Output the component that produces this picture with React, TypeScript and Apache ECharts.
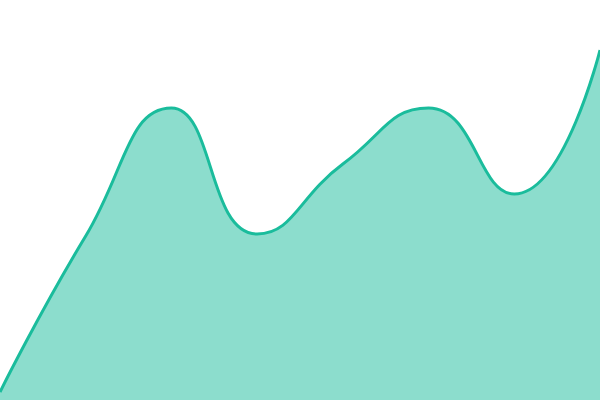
import React, { useEffect, useRef } from 'react'
import * as echarts from 'echarts'

const categories = ['1', '2', '3', '4', '5', '6', '7', '8']
const values = [2, 41, 73, 41.5, 59, 73, 51.5, 87.5]

const App: React.FC = () => {
  const ref = useRef<HTMLDivElement>(null)

  useEffect(() => {
    if (!ref.current) return
    const chart = echarts.init(ref.current, undefined, { renderer: 'svg' })
    chart.setOption({
      animation: false,
      grid: { left: 0, right: 0, top: 0, bottom: 0 },
      xAxis: { type: 'category', data: categories, boundaryGap: false, show: false },
      yAxis: { type: 'value', min: 0, max: 100, show: false },
      series: [{
        type: 'line',
        data: values,
        smooth: true,
        symbol: 'none',
        lineStyle: { color: '#1abc9c', width: 3 },
        areaStyle: { color: '#1abc9c', opacity: 0.5 },
      }],
    })
    return () => chart.dispose()
  }, [])

  return (
    <div style={{ position: 'fixed', left: 0, top: 0, width: 600, height: 400, background: '#fff' }}>
      <div ref={ref} style={{ width: 600, height: 400 }} />
    </div>
  )
}

export default App
